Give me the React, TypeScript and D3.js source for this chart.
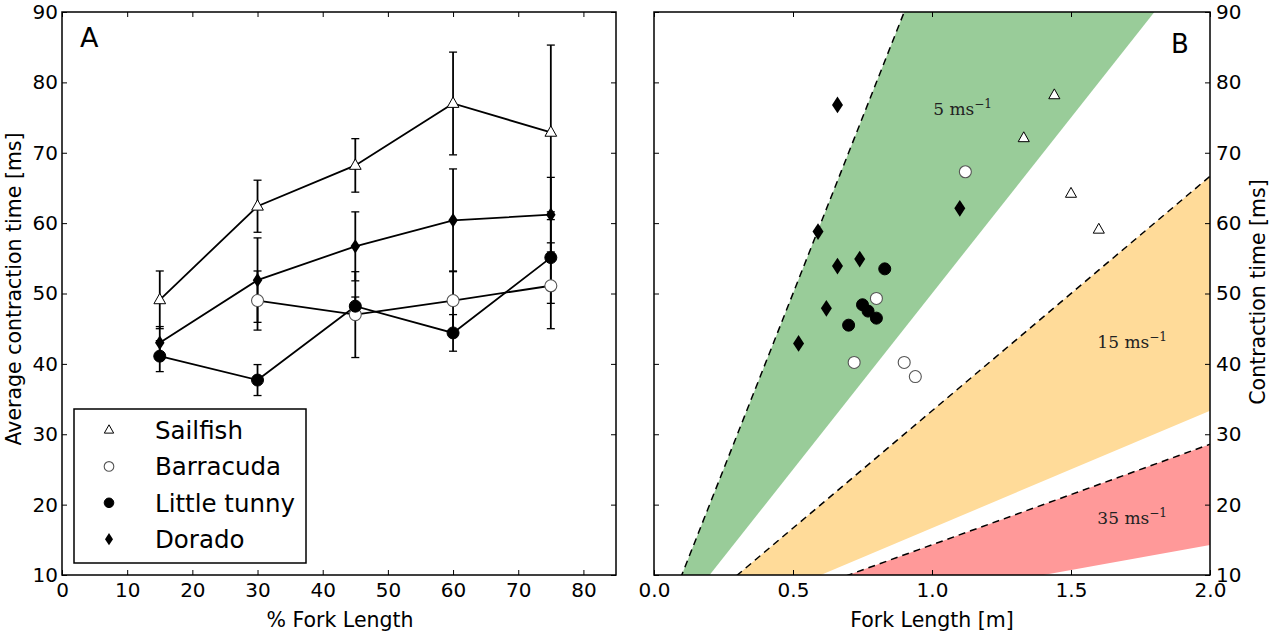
import * as d3 from "d3";
import { useEffect, useRef } from "react";

// Panel A: mean contraction time along the body (% fork length), with error bars
const pctFork = [15, 30, 45, 60, 75];
const pctForkBarracuda = [30, 45, 60, 75];

const sailfishMean = [49.1, 62.4, 68.2, 77.0, 72.9];
const sailfishErr = [4.1, 3.7, 3.8, 7.3, 12.4];
const barracudaMean = [49.0, 47.0, 49.0, 51.1];
const barracudaErr = [4.2, 6.1, 4.2, 6.1];
const tunnyMean = [41.1, 37.7, 48.2, 44.4, 55.1];
const tunnyErr = [2.2, 2.2, 1.3, 2.6, 6.5];
const doradoMean = [43.0, 51.9, 56.7, 60.4, 61.2];
const doradoErr = [2.3, 6.0, 4.9, 7.3, 5.3];

// Panel B: contraction time vs fork length for each fish
const sailfishLen = [1.44, 1.33, 1.5, 1.6];
const sailfishTime = [78.2, 72.1, 64.2, 59.1];
const barracudaLen = [1.12, 0.8, 0.72, 0.9, 0.94];
const barracudaTime = [67.3, 49.3, 40.2, 40.2, 38.2];
const tunnyLen = [0.83, 0.75, 0.77, 0.8, 0.7];
const tunnyTime = [53.5, 48.4, 47.5, 46.5, 45.5];
const doradoLen = [0.66, 0.59, 0.66, 0.74, 0.62, 0.52, 1.1];
const doradoTime = [76.8, 58.8, 53.9, 54.9, 47.9, 42.9, 62.1];

// swimming-speed bands: time = slope * length (ms per m)
const bandSpeeds = ["5", "15", "35"];
const bandUpperSlope = [100, 33.33, 14.29];
const bandLowerSlope = [50, 16.67, 7.14];
const bandColors = ["#99cc99", "#ffdb99", "#ff9999"];
const bandLabelAt = [[1.11, 75.4], [1.72, 42.3], [1.72, 17.3]];

const legendNames = ["Sailfish", "Barracuda", "Little tunny", "Dorado"];
const xTicksA = [0, 10, 20, 30, 40, 50, 60, 70, 80];
const yTicks = [10, 20, 30, 40, 50, 60, 70, 80, 90];
const xTicksB = [0, 0.5, 1, 1.5, 2];

const FONT = "DejaVu Sans, sans-serif";
const W = 1280, H = 636;
const top = 12, bottom = 575;

function drawMarker(g, kind, x, y, s = 1) {
    if (kind === "tri") {
        const r = 6.5 * s;
        g.append("path")
            .attr("d", `M${x},${y - r} L${x + r * 0.9},${y + r * 0.6} L${x - r * 0.9},${y + r * 0.6} Z`)
            .attr("fill", "#fff").attr("stroke", "#000").attr("stroke-width", 1);
    } else if (kind === "open") {
        g.append("circle").attr("cx", x).attr("cy", y).attr("r", 6 * s)
            .attr("fill", "#fff").attr("stroke", "#555").attr("stroke-width", 1.1);
    } else if (kind === "dot") {
        g.append("circle").attr("cx", x).attr("cy", y).attr("r", 6 * s)
            .attr("fill", "#000").attr("stroke", "#000").attr("stroke-width", 1);
    } else {
        const w = 5 * s, h = 7.6 * s;
        g.append("path")
            .attr("d", `M${x},${y - h} L${x + w},${y} L${x},${y + h} L${x - w},${y} Z`)
            .attr("fill", "#000");
    }
}

function frameAxes(g, x, y, xTicks, fmtX, rightLabels) {
    const [x0, x1] = x.range();
    const inner = -5;
    const ax = (gen, tx, ty) => {
        const a = g.append("g").attr("transform", `translate(${tx},${ty})`).call(gen);
        a.select(".domain").remove();
        a.selectAll("text").attr("font-family", FONT).attr("font-size", 20).attr("fill", "#000");
        a.selectAll("line").attr("stroke", "#000");
        return a;
    };
    ax(d3.axisBottom(x).tickValues(xTicks).tickFormat(fmtX).tickSizeInner(inner).tickSizeOuter(0).tickPadding(8), 0, bottom);
    ax(d3.axisTop(x).tickValues(xTicks).tickFormat(() => "").tickSizeInner(inner).tickSizeOuter(0), 0, top);
    ax(d3.axisLeft(y).tickValues(yTicks).tickFormat(rightLabels ? () => "" : d3.format("d")).tickSizeInner(inner).tickSizeOuter(0).tickPadding(4), x0, 0);
    ax(d3.axisRight(y).tickValues(yTicks).tickFormat(rightLabels ? d3.format("d") : () => "").tickSizeInner(inner).tickSizeOuter(0).tickPadding(6), x1, 0);
    g.append("rect").attr("x", x0).attr("y", top).attr("width", x1 - x0).attr("height", bottom - top)
        .attr("fill", "none").attr("stroke", "#000").attr("stroke-width", 1.5);
}

const App = () => {
    const svgRef = useRef(null);

    useEffect(() => {
        const svg = d3.select(svgRef.current);
        svg.selectAll("*").remove();

        // ---------- panel A ----------
        const xA = d3.scaleLinear().domain([0, 85]).range([62, 616]);
        const yA = d3.scaleLinear().domain([10, 90]).range([bottom, top]);
        const gA = svg.append("g");

        const seriesA = [
            { kind: "tri", xs: pctFork, m: sailfishMean, e: sailfishErr },
            { kind: "open", xs: pctForkBarracuda, m: barracudaMean, e: barracudaErr },
            { kind: "dot", xs: pctFork, m: tunnyMean, e: tunnyErr },
            { kind: "dia", xs: pctFork, m: doradoMean, e: doradoErr },
        ];

        const line = d3.line().x(d => xA(d[0])).y(d => yA(d[1]));
        seriesA.forEach(s => {
            const pts = s.xs.map((v, i) => [v, s.m[i]]);
            gA.append("path").datum(pts).attr("d", line)
                .attr("fill", "none").attr("stroke", "#000").attr("stroke-width", 1.8);
            s.xs.forEach((v, i) => {
                const cx = xA(v);
                const lo = yA(s.m[i] - s.e[i]), hi = yA(s.m[i] + s.e[i]);
                gA.append("line").attr("x1", cx).attr("x2", cx).attr("y1", lo).attr("y2", hi)
                    .attr("stroke", "#000").attr("stroke-width", 1.8);
                [lo, hi].forEach(yy => gA.append("line").attr("x1", cx - 4).attr("x2", cx + 4)
                    .attr("y1", yy).attr("y2", yy).attr("stroke", "#000").attr("stroke-width", 1.3));
            });
        });
        seriesA.forEach(s => s.xs.forEach((v, i) => drawMarker(gA, s.kind, xA(v), yA(s.m[i]), s.kind === "dia" ? 0.95 : 1)));

        frameAxes(gA, xA, yA, xTicksA, d3.format("d"), false);

        gA.append("text").attr("x", 80).attr("y", 47).attr("font-family", FONT)
            .attr("font-size", 27).text("A");

        // legend
        const lg = gA.append("g");
        lg.append("rect").attr("x", 74).attr("y", 409).attr("width", 232).attr("height", 154)
            .attr("fill", "#fff").attr("stroke", "#000").attr("stroke-width", 1.5);
        ["tri", "open", "dot", "dia"].forEach((k, i) => {
            const yy = 430 + i * 36.4;
            drawMarker(lg, k, 109, yy, 0.8);
            lg.append("text").attr("x", 155).attr("y", yy).attr("dy", "0.36em")
                .attr("font-family", FONT).attr("font-size", 24.5).text(legendNames[i]);
        });

        gA.append("text").attr("x", 340).attr("y", 627).attr("text-anchor", "middle")
            .attr("font-family", FONT).attr("font-size", 20.5).text("% Fork Length");
        gA.append("text").attr("transform", `translate(21,289) rotate(-90)`)
            .attr("text-anchor", "middle").attr("font-family", FONT).attr("font-size", 20.5)
            .text("Average contraction time [ms]");

        // ---------- panel B ----------
        const xB = d3.scaleLinear().domain([0, 2]).range([654, 1210]);
        const yB = d3.scaleLinear().domain([10, 90]).range([bottom, top]);
        const gB = svg.append("g");

        svg.append("defs").append("clipPath").attr("id", "clipB").append("rect")
            .attr("x", 654).attr("y", top).attr("width", 1210 - 654).attr("height", bottom - top);

        const bands = gB.append("g").attr("clip-path", "url(#clipB)");
        bandSpeeds.forEach((sp, i) => {
            const poly = [[0, 0], [2, bandUpperSlope[i] * 2], [2, bandLowerSlope[i] * 2]];
            bands.append("path")
                .attr("d", "M" + poly.map(p => `${xB(p[0])},${yB(p[1])}`).join("L") + "Z")
                .attr("fill", bandColors[i]);
            bands.append("line")
                .attr("x1", xB(0)).attr("y1", yB(0))
                .attr("x2", xB(2)).attr("y2", yB(bandUpperSlope[i] * 2))
                .attr("stroke", "#000").attr("stroke-width", 1.5).attr("stroke-dasharray", "7,5");
            const t = gB.append("text")
                .attr("x", xB(bandLabelAt[i][0])).attr("y", yB(bandLabelAt[i][1]))
                .attr("text-anchor", "middle").attr("font-family", "DejaVu Serif, serif")
                .attr("font-size", 17).attr("fill", "#222");
            t.append("tspan").text(`${sp} ms`);
            t.append("tspan").attr("dy", -7).attr("font-size", 12).text("\u22121");
        });

        const pts = gB.append("g");
        sailfishLen.forEach((v, i) => drawMarker(pts, "tri", xB(v), yB(sailfishTime[i]), 0.95));
        barracudaLen.forEach((v, i) => drawMarker(pts, "open", xB(v), yB(barracudaTime[i])));
        tunnyLen.forEach((v, i) => drawMarker(pts, "dot", xB(v), yB(tunnyTime[i])));
        doradoLen.forEach((v, i) => drawMarker(pts, "dia", xB(v), yB(doradoTime[i]), 1.1));

        frameAxes(gB, xB, yB, xTicksB, d3.format(".1f"), true);

        gB.append("text").attr("x", 1171).attr("y", 53).attr("font-family", FONT)
            .attr("font-size", 26).text("B");

        gB.append("text").attr("x", 932).attr("y", 627).attr("text-anchor", "middle")
            .attr("font-family", FONT).attr("font-size", 20.5).text("Fork Length [m]");
        gB.append("text").attr("transform", `translate(1265,292) rotate(-90)`)
            .attr("text-anchor", "middle").attr("font-family", FONT).attr("font-size", 20.5)
            .text("Contraction time [ms]");
    }, []);

    return (
        <svg ref={svgRef} width={W} height={H}
            style={{ position: "absolute", left: 0, top: 0, background: "#fff" }} />
    );
};

export default App;
